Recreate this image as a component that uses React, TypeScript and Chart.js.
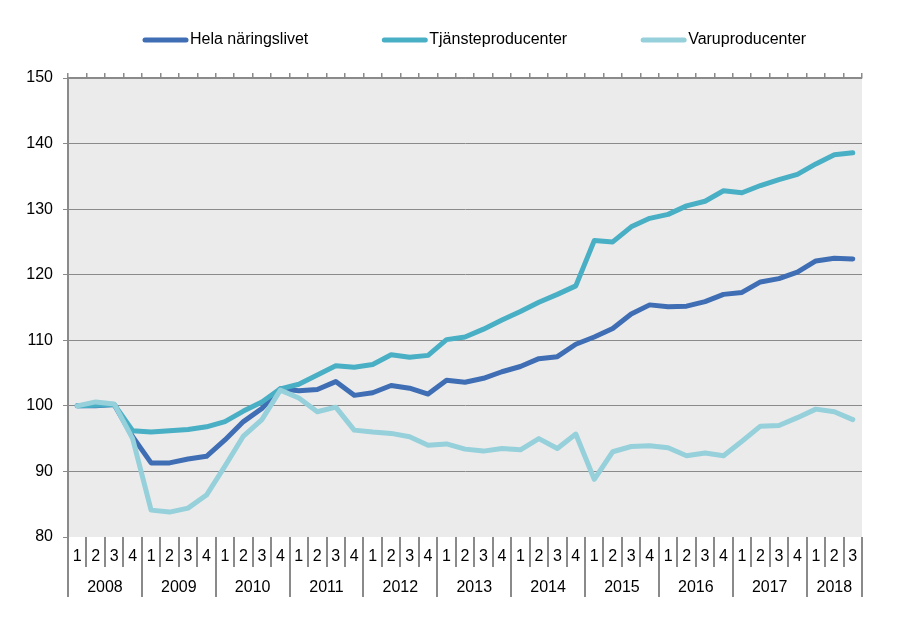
import React, { useEffect, useRef } from 'react';
import { Chart, registerables } from 'chart.js';

Chart.register(...registerables);

// ---- Data ----
const years = ['2008', '2009', '2010', '2011', '2012', '2013', '2014', '2015', '2016', '2017', '2018'];
const quartersPerYear = [4, 4, 4, 4, 4, 4, 4, 4, 4, 4, 3];
const quarterLabels: string[] = [];
years.forEach((_, yi) => {
  for (let q = 1; q <= quartersPerYear[yi]; q++) quarterLabels.push(String(q));
});

const helaNaringslivet = [
  100.0, 100.0, 100.2, 95.3,
  91.3, 91.3, 91.9, 92.3,
  94.8, 97.6, 99.6, 102.6,
  102.3, 102.5, 103.7, 101.6,
  102.0, 103.1, 102.7, 101.8,
  103.9, 103.6, 104.2, 105.2,
  106.0, 107.2, 107.5, 109.4,
  110.5, 111.8, 114.0, 115.4,
  115.1, 115.2, 115.9, 117.0,
  117.3, 118.9, 119.4, 120.4,
  122.1, 122.5, 122.4,
];

const tjansteproducenter = [
  100.0, 100.1, 100.2, 96.2,
  96.0, 96.2, 96.4, 96.8,
  97.6, 99.2, 100.6, 102.6,
  103.3, 104.7, 106.1, 105.9,
  106.3, 107.8, 107.4, 107.7,
  110.1, 110.5, 111.7, 113.1,
  114.4, 115.8, 117.0, 118.3,
  125.2, 125.0, 127.3, 128.6,
  129.2, 130.5, 131.2, 132.8,
  132.5, 133.6, 134.5, 135.3,
  136.9, 138.3, 138.6,
];

const varuproducenter = [
  100.0, 100.6, 100.3, 95.0,
  84.1, 83.8, 84.4, 86.4,
  90.8, 95.4, 97.9, 102.4,
  101.2, 99.1, 99.8, 96.3,
  96.0, 95.8, 95.3, 94.0,
  94.2, 93.4, 93.1, 93.5,
  93.3, 95.0, 93.5, 95.7,
  88.8, 93.0, 93.8, 93.9,
  93.6, 92.4, 92.8, 92.4,
  94.6, 96.9, 97.0, 98.2,
  99.5, 99.1, 97.9,
];

const seriesNames = ['Hela näringslivet', 'Tjänsteproducenter', 'Varuproducenter'];
const seriesColors = ['#3F6EB5', '#48AFC5', '#95D0DB'];
const yMin = 80;
const yMax = 150;
const yStep = 10;

// ---- Styles ----
const FONT = "'Liberation Sans', Arial, sans-serif";
const AXIS_GRAY = '#8a8a8a';

const backgroundPlugin = {
  id: 'plotBackground',
  beforeDraw(chart: any) {
    const { ctx, chartArea } = chart;
    ctx.save();
    ctx.fillStyle = '#EBEBEB';
    ctx.fillRect(chartArea.left, chartArea.top, chartArea.right - chartArea.left, chartArea.bottom - chartArea.top);
    ctx.restore();
  },
};

const yearAxisPlugin = {
  id: 'yearAxis',
  afterDraw(chart: any) {
    const { ctx, chartArea } = chart;
    const xs = chart.scales.x;
    const n = quarterLabels.length;
    const w = (xs.right - xs.left) / n;
    ctx.save();
    ctx.strokeStyle = AXIS_GRAY;
    ctx.lineWidth = 2;
    ctx.fillStyle = '#000';
    ctx.font = `16px ${FONT}`;
    ctx.textAlign = 'center';
    ctx.textBaseline = 'middle';
    let start = 0;
    const boundaries: number[] = [0];
    years.forEach((y, i) => {
      const end = start + quartersPerYear[i];
      boundaries.push(end);
      const x0 = xs.left + start * w;
      const x1 = xs.left + end * w;
      ctx.fillText(y, (x0 + x1) / 2, chartArea.bottom + 51);
      start = end;
    });
    boundaries.forEach((b) => {
      const x = Math.round(xs.left + b * w);
      ctx.beginPath();
      ctx.moveTo(x, chartArea.bottom);
      ctx.lineTo(x, chartArea.bottom + 60);
      ctx.stroke();
    });
    ctx.restore();
  },
};

const customLegendPlugin = {
  id: 'customLegend',
  afterDraw(chart: any) {
    const { ctx } = chart;
    ctx.save();
    ctx.font = `16px ${FONT}`;
    ctx.textBaseline = 'middle';
    ctx.textAlign = 'left';
    let x = 145;
    const y = 40;
    chart.data.datasets.forEach((ds: any) => {
      ctx.strokeStyle = ds.borderColor;
      ctx.lineWidth = 5;
      ctx.lineCap = 'round';
      ctx.beginPath();
      ctx.moveTo(x, y);
      ctx.lineTo(x + 41, y);
      ctx.stroke();
      ctx.fillStyle = '#000';
      ctx.fillText(ds.label, x + 45, y);
      const tw = ctx.measureText(ds.label).width;
      x += 45 + tw + 76;
    });
    ctx.restore();
  },
};

export default function App() {
  const canvasRef = useRef<HTMLCanvasElement | null>(null);

  useEffect(() => {
    const canvas = canvasRef.current;
    if (!canvas) return;
    const seriesData = [helaNaringslivet, tjansteproducenter, varuproducenter];
    const chart = new Chart(canvas, {
      type: 'line',
      data: {
        labels: quarterLabels,
        datasets: seriesData.map((d, i) => ({
          label: seriesNames[i],
          data: d,
          borderColor: seriesColors[i],
          backgroundColor: seriesColors[i],
          borderWidth: 5,
          pointRadius: 0,
          pointHoverRadius: 0,
          tension: 0,
          borderJoinStyle: 'round' as const,
          borderCapStyle: 'round' as const,
          fill: false,
          order: 2 - i,
          xAxisID: 'x',
          yAxisID: 'y',
        })),
      },
      options: {
        responsive: false,
        animation: false,
        devicePixelRatio: 1,
        layout: { padding: { top: 68, right: 53, bottom: 0, left: 0 } },
        plugins: {
          legend: { display: false },
          tooltip: { enabled: false },
        },
        scales: {
          x: {
            type: 'category',
            position: 'bottom',
            offset: true,
            grid: {
              offset: true,
              drawOnChartArea: false,
              drawTicks: true,
              tickLength: 30,
              color: AXIS_GRAY,
              lineWidth: 2,
            },
            border: { display: false },
            ticks: {
              autoSkip: false,
              maxRotation: 0,
              padding: -20,
              color: '#000',
              font: { family: FONT, size: 16 },
            },
            afterFit: (scale: any) => {
              scale.height = 104;
            },
          },
          xTop: {
            type: 'category',
            position: 'top',
            offset: true,
            grid: {
              offset: true,
              drawOnChartArea: false,
              drawTicks: true,
              tickLength: 5,
              color: AXIS_GRAY,
              lineWidth: 1.5,
            },
            border: { display: true, color: AXIS_GRAY, width: 1.5 },
            ticks: { display: false },
            afterFit: (scale: any) => {
              scale.height = 10;
            },
          },
          y: {
            type: 'linear',
            position: 'left',
            min: yMin,
            max: yMax,
            ticks: {
              stepSize: yStep,
              padding: 10,
              color: '#000',
              font: { family: FONT, size: 16 },
            },
            grid: {
              color: (c: any) => (c.tick && c.tick.value === yMin ? 'rgba(0,0,0,0)' : AXIS_GRAY),
              tickColor: AXIS_GRAY,
              tickLength: 5,
              lineWidth: 1,
            },
            border: { display: true, color: AXIS_GRAY, width: 2 },
            afterFit: (scale: any) => {
              scale.width = 68;
            },
          },
        },
      },
      plugins: [backgroundPlugin, yearAxisPlugin, customLegendPlugin],
    } as any);
    return () => chart.destroy();
  }, []);

  return (
    <div style={{ position: 'absolute', left: 0, top: 0, width: 915, height: 641, background: '#fff' }}>
      <canvas ref={canvasRef} width={915} height={641} style={{ width: 915, height: 641, display: 'block' }} />
    </div>
  );
}
